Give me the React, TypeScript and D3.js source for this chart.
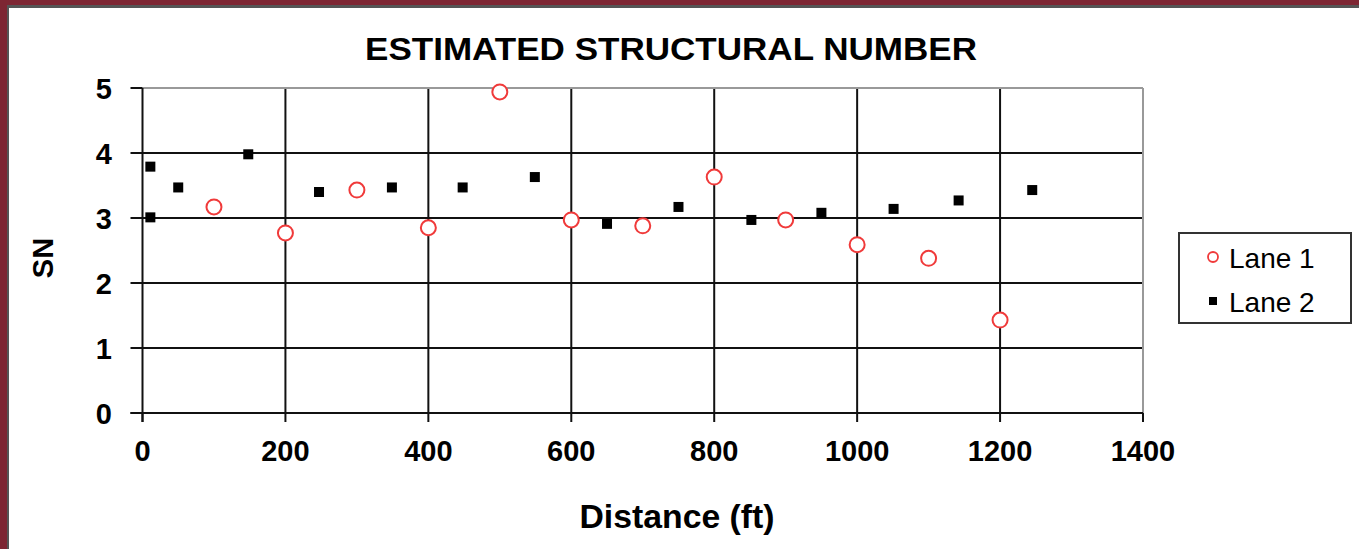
import React from "react";
import * as d3 from "d3";

const lane1X = [100, 200, 300, 400, 500, 600, 700, 800, 900, 1000, 1100, 1200];
const lane1Y = [3.17, 2.77, 3.43, 2.85, 4.94, 2.97, 2.88, 3.63, 2.97, 2.59, 2.38, 1.43];
const lane2X = [11, 11, 50, 148, 247, 349, 448, 549, 650, 750, 852, 950, 1051, 1142, 1245];
const lane2Y = [3.79, 3.01, 3.47, 3.98, 3.4, 3.47, 3.47, 3.63, 2.91, 3.17, 2.97, 3.08, 3.14, 3.27, 3.43];
const xTicks = [0, 200, 400, 600, 800, 1000, 1200, 1400];
const yTicks = [0, 1, 2, 3, 4, 5];
const seriesNames = ["Lane 1", "Lane 2"];

const W = 1359, H = 549;
const L = 142.5, R = 1143, T = 88, B = 413;

export default function App() {
  const x = d3.scaleLinear().domain([0, 1400]).range([L, R]);
  const y = d3.scaleLinear().domain([0, 5]).range([B, T]);
  const font = "Arial, 'Liberation Sans', sans-serif";
  return (
    <svg width={W} height={H} style={{ position: "absolute", left: 0, top: 0, display: "block" }} fontFamily={font}>
      <rect x={0} y={0} width={W} height={H} fill="#7d2633" />
      <rect x={7} y={5} width={W - 7} height={H - 5} fill="#555" />
      <rect x={9} y={8} width={W - 9} height={H - 8} fill="#fff" />
      <text x={671} y={60} textAnchor="middle" fontSize={32} fontWeight="bold" textLength={612} lengthAdjust="spacingAndGlyphs">ESTIMATED STRUCTURAL NUMBER</text>
      {/* grid */}
      {yTicks.filter(t => t > 0 && t < 5).map(t => (
        <line key={"gy" + t} x1={L} x2={R} y1={y(t)} y2={y(t)} stroke="#111" strokeWidth={2} />
      ))}
      {xTicks.filter(t => t > 0 && t < 1400).map(t => (
        <line key={"gx" + t} x1={x(t)} x2={x(t)} y1={T} y2={B} stroke="#111" strokeWidth={2} />
      ))}
      {/* frame top/right grey */}
      <line x1={L} x2={R} y1={T} y2={T} stroke="#999" strokeWidth={2} />
      <line x1={R} x2={R} y1={T} y2={B} stroke="#999" strokeWidth={2} />
      {/* axes */}
      <line x1={L} x2={L} y1={T} y2={B + 9} stroke="#111" strokeWidth={2} />
      <line x1={L - 12} x2={R} y1={B} y2={B} stroke="#111" strokeWidth={2} />
      {yTicks.map(t => (
        <g key={"yt" + t}>
          <line x1={L - 12} x2={L} y1={y(t)} y2={y(t)} stroke="#111" strokeWidth={2} />
          <text x={112} y={y(t) + 10.5} textAnchor="end" fontSize={29} fontWeight="bold">{t}</text>
        </g>
      ))}
      {xTicks.map(t => (
        <g key={"xt" + t}>
          <line x1={x(t)} x2={x(t)} y1={B} y2={B + 9} stroke="#111" strokeWidth={2} />
          <text x={x(t)} y={461} textAnchor="middle" fontSize={29} fontWeight="bold">{t}</text>
        </g>
      ))}
      <text x={677} y={528} textAnchor="middle" fontSize={33} fontWeight="bold" textLength={195} lengthAdjust="spacingAndGlyphs">Distance (ft)</text>
      <text transform={`translate(53,258) rotate(-90)`} textAnchor="middle" fontSize={29} fontWeight="bold">SN</text>
      {/* lane 2 squares */}
      {lane2X.map((v, i) => (
        <rect key={"s" + i} x={x(v) - 5} y={y(lane2Y[i]) - 5} width={10} height={10} fill="#000" />
      ))}
      {/* lane 1 circles */}
      {lane1X.map((v, i) => (
        <circle key={"c" + i} cx={x(v)} cy={y(lane1Y[i])} r={7.5} fill="#fff" stroke="#f03a3a" strokeWidth={2} />
      ))}
      {/* legend */}
      <rect x={1179} y={233} width={172} height={90} fill="#fff" stroke="#333" strokeWidth={2} />
      <circle cx={1213} cy={257} r={5} fill="#fff" stroke="#f03a3a" strokeWidth={1.8} />
      <text x={1229} y={268} fontSize={28}>{seriesNames[0]}</text>
      <rect x={1209} y={297} width={8} height={8} fill="#000" />
      <text x={1229} y={312} fontSize={28}>{seriesNames[1]}</text>
    </svg>
  );
}
